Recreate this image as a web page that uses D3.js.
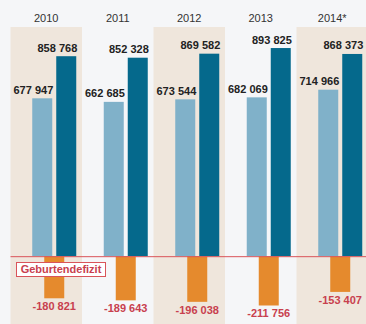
<!DOCTYPE html>
<html><head><meta charset="utf-8">
<script src="https://cdn.jsdelivr.net/npm/d3@7"></script>
<style>html,body{margin:0;padding:0;background:#f5f6f8;}svg{display:block;}</style>
</head><body>
<script>
const years = ["2010","2011","2012","2013","2014*"];
const births = [677947, 662685, 673544, 682069, 714966];
const deaths = [858768, 852328, 869582, 893825, 868373];
const deficit = [-180821, -189643, -196038, -211756, -153407];
const deficitLabel = "Geburtendefizit";

const W = 366, H = 324;
const fmt = v => (v < 0 ? "-" : "") + d3.format(",")(Math.abs(v)).replace(/,/g, " ");

const svg = d3.select("body").append("svg").attr("width", W).attr("height", H);
svg.append("rect").attr("width", W).attr("height", H).attr("fill", "#f5f6f8");

const x = d3.scaleBand().domain(years).range([10.5, 10.5 + 5 * 71.5]).padding(0);
const xi = d3.scaleBand().domain(["b", "d"]).range([0, 44]).paddingInner(1 / 6);
const y = d3.scaleLinear().domain([-250000, 900000]).range([314.4, 46.6]);
const shift = 8;
const gx = yr => x(yr) + x.bandwidth() / 2 + shift - 22;

// shaded bands
svg.selectAll("rect.band").data(years.filter((d, i) => i % 2 === 0)).enter()
  .append("rect").attr("class", "band")
  .attr("x", d => x(d)).attr("y", 27).attr("width", x.bandwidth()).attr("height", H - 27)
  .attr("fill", "#efe6dc");

// year labels
svg.selectAll("text.year").data(years).enter().append("text")
  .attr("x", d => x(d) + x.bandwidth() / 2).attr("y", 22)
  .attr("text-anchor", "middle").attr("font-family", "Liberation Sans, Arial, sans-serif")
  .attr("font-size", 11).attr("fill", "#333").text(d => d);

const data = years.map((yr, i) => ({yr, b: births[i], d: deaths[i], def: deficit[i]}));

// birth bars
svg.selectAll("rect.b").data(data).enter().append("rect")
  .attr("x", d => gx(d.yr) + xi("b")).attr("width", xi.bandwidth())
  .attr("y", d => y(d.b)).attr("height", d => y(0) - y(d.b)).attr("fill", "#80b1c9");
// death bars
svg.selectAll("rect.d").data(data).enter().append("rect")
  .attr("x", d => gx(d.yr) + xi("d")).attr("width", xi.bandwidth())
  .attr("y", d => y(d.d)).attr("height", d => y(0) - y(d.d)).attr("fill", "#05698c");
// deficit bars
svg.selectAll("rect.def").data(data).enter().append("rect")
  .attr("x", d => gx(d.yr) + 22 - xi.bandwidth() / 2).attr("width", xi.bandwidth())
  .attr("y", y(0)).attr("height", d => y(d.def) - y(0)).attr("fill", "#e58a2d");

// baseline
svg.append("line").attr("x1", 10.5).attr("x2", W).attr("y1", y(0) + 0.5).attr("y2", y(0) + 0.5)
  .attr("stroke", "#d9545a").attr("stroke-width", 1);

const ff = "Liberation Sans, Arial, sans-serif";
// value labels
svg.selectAll("text.b").data(data).enter().append("text")
  .attr("x", d => gx(d.yr) + xi("b") + xi.bandwidth() + 1).attr("y", d => y(d.b) - 4.5)
  .attr("text-anchor", "end").attr("font-family", ff).attr("font-weight", "bold")
  .attr("font-size", 11).attr("fill", "#222").text(d => fmt(d.b));
svg.selectAll("text.d").data(data).enter().append("text")
  .attr("x", d => gx(d.yr) + xi("d") + xi.bandwidth() + 1).attr("y", d => y(d.d) - 4.5)
  .attr("text-anchor", "end").attr("font-family", ff).attr("font-weight", "bold")
  .attr("font-size", 11).attr("fill", "#222").text(d => fmt(d.d));
svg.selectAll("text.def").data(data).enter().append("text")
  .attr("x", d => gx(d.yr) + 22).attr("y", d => y(d.def) + 12)
  .attr("text-anchor", "middle").attr("font-family", ff).attr("font-weight", "bold")
  .attr("font-size", 11).attr("fill", "#c8404e").text(d => fmt(d.def));

// deficit label box
const lg = svg.append("g").attr("transform", "translate(16,262)");
lg.append("rect").attr("x", 0.5).attr("y", 0.5).attr("width", 89).attr("height", 14)
  .attr("fill", "#ffffff").attr("stroke", "#d9545a").attr("stroke-width", 1);
lg.append("text").attr("x", 45).attr("y", 11).attr("text-anchor", "middle")
  .attr("font-family", ff).attr("font-weight", "bold").attr("font-size", 11)
  .attr("fill", "#c8404e").text(deficitLabel);
</script>
</body></html>
